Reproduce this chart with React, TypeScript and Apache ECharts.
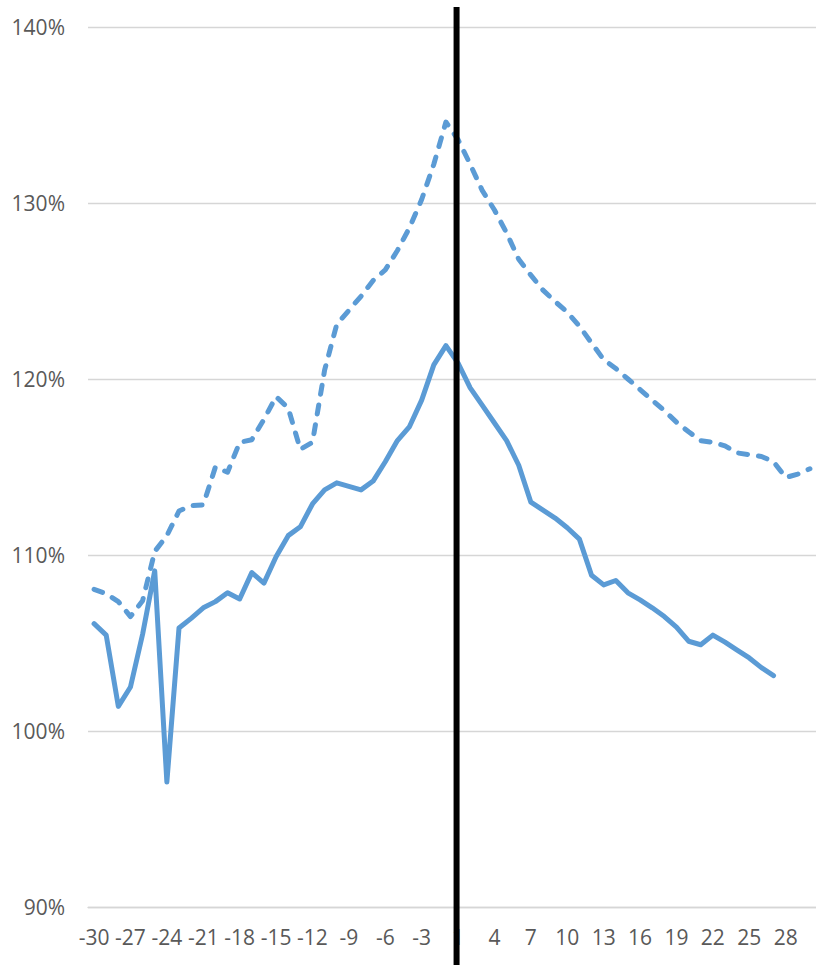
import React, { useEffect, useRef } from "react";
import * as echarts from "echarts";

const categories = [
  "-30", "-29", "-28", "-27", "-26", "-25", "-24", "-23", "-22", "-21",
  "-20", "-19", "-18", "-17", "-16", "-15", "-14", "-13", "-12", "-11",
  "-10", "-9", "-8", "-7", "-6", "-5", "-4", "-3", "-2", "-1",
  "1", "2", "3", "4", "5", "6", "7", "8", "9", "10",
  "11", "12", "13", "14", "15", "16", "17", "18", "19", "20",
  "21", "22", "23", "24", "25", "26", "27", "28", "29", "30",
];

const solidValues = [
  106.1, 105.45, 101.4, 102.5, 105.5, 109.1, 97.1, 105.85, 106.4, 107.0,
  107.35, 107.85, 107.5, 109.0, 108.4, 109.9, 111.1, 111.6, 112.9, 113.7,
  114.1, 113.9, 113.7, 114.2, 115.3, 116.5, 117.3, 118.8, 120.8, 121.9,
  120.9, 119.5, 118.5, 117.5, 116.5, 115.1, 113.0, 112.55, 112.1, 111.55,
  110.9, 108.85, 108.3, 108.55, 107.85, 107.45, 107.0, 106.5, 105.9, 105.1,
  104.9, 105.45, 105.05, 104.6, 104.15, 103.6, 103.15, null, null, null,
];

const dashedValues = [
  108.05, 107.8, 107.35, 106.5, 107.4, 110.2, 111.1, 112.5, 112.8, 112.85,
  115.0, 114.7, 116.4, 116.55, 117.7, 119.0, 118.35, 116.0, 116.4, 120.5,
  123.1, 123.9, 124.7, 125.6, 126.2, 127.3, 128.6, 130.2, 132.2, 134.6,
  133.6, 132.2, 130.7, 129.6, 128.3, 126.8, 125.9, 125.05, 124.4, 123.8,
  123.0, 122.05, 121.1, 120.6, 120.0, 119.4, 118.8, 118.2, 117.55, 117.0,
  116.5, 116.4, 116.2, 115.8, 115.7, 115.6, 115.3, 114.4, 114.6, 114.9,
];

const markerCategory = "1";

export default function App() {
  const ref = useRef<HTMLDivElement>(null);

  useEffect(() => {
    if (!ref.current) return;
    const chart = echarts.init(ref.current, null, { renderer: "svg" });
    const font = "'Open Sans', 'Liberation Sans', sans-serif";
    chart.setOption({
      animation: false,
      grid: { left: 88, right: -2, top: 27, bottom: 58, containLabel: false },
      xAxis: {
        type: "category",
        data: categories,
        boundaryGap: true,
        axisLine: { show: true, lineStyle: { color: "#d6d6d6", width: 1.3 } },
        axisTick: { show: false },
        axisLabel: {
          interval: 2,
          color: "#595959",
          fontSize: 21,
          fontFamily: font,
          margin: 19,
        },
        splitLine: { show: false },
      },
      yAxis: {
        type: "value",
        min: 90,
        max: 140,
        interval: 10,
        axisLine: { show: false },
        axisTick: { show: false },
        axisLabel: {
          color: "#595959",
          fontSize: 21,
          fontFamily: font,
          margin: 23,
          formatter: (v: number) => `${v}%`,
        },
        splitLine: { lineStyle: { color: "#d6d6d6", width: 1.3 } },
      },
      series: [
        {
          type: "line",
          data: dashedValues,
          showSymbol: false,
          symbol: "none",
          lineStyle: {
            color: "#5B9BD5",
            width: 5,
            type: [9, 11],
            cap: "round",
            join: "round",
          },
        },
        {
          type: "line",
          data: solidValues,
          showSymbol: false,
          symbol: "none",
          connectNulls: false,
          lineStyle: { color: "#5B9BD5", width: 5, cap: "round", join: "round" },
        },
      ],
    });
    const px = chart.convertToPixel({ xAxisIndex: 0 }, markerCategory) as number;
    chart.setOption({
      graphic: [
        {
          type: "line",
          z: 100,
          shape: { x1: px - 1.5, y1: 7, x2: px - 1.5, y2: 965 },
          style: { stroke: "#000000", lineWidth: 6 },
        },
      ],
    });
    return () => chart.dispose();
  }, []);

  return (
    <div
      ref={ref}
      style={{ position: "absolute", left: 0, top: 0, width: 816, height: 965 }}
    />
  );
}
